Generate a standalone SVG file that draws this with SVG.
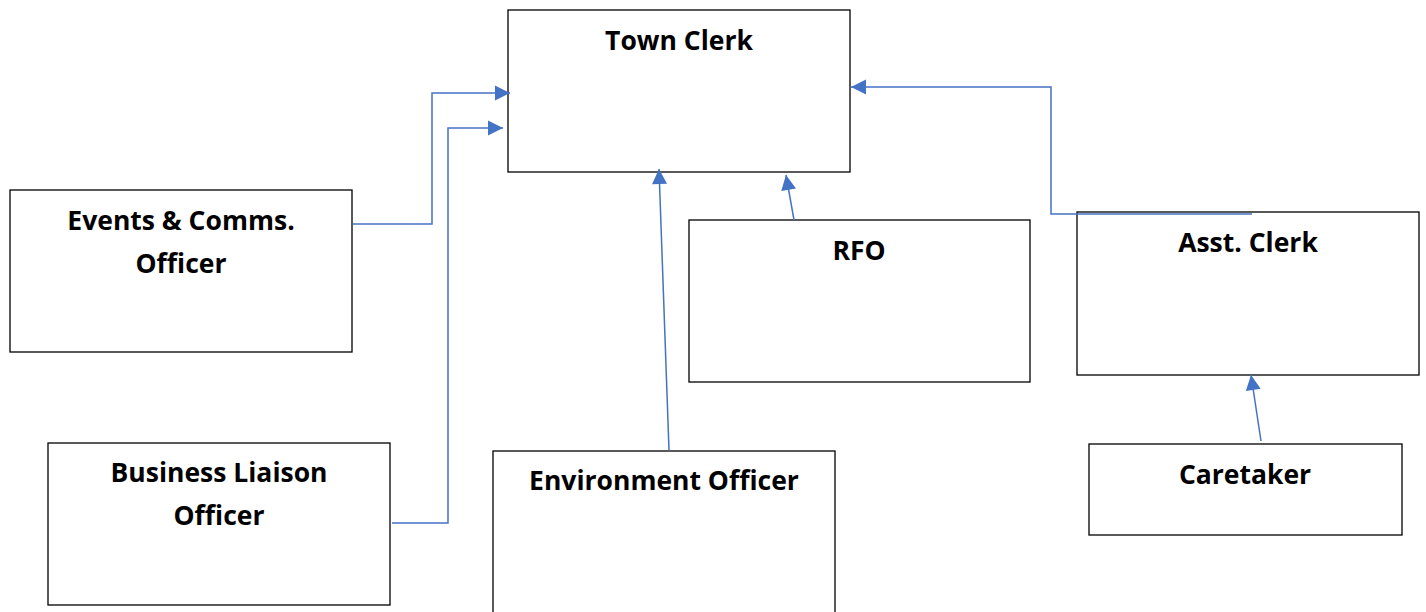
<svg xmlns="http://www.w3.org/2000/svg" width="1426" height="612" viewBox="0 0 1426 612">
<style>
.box{fill:#fff;stroke:#000;stroke-width:1.3}
.lbl{font-family:"Open Sans","Noto Sans",sans-serif;font-weight:bold;font-size:26.5px;text-anchor:middle;fill:#000}
.con{fill:none;stroke:#4472C4;stroke-width:1.5}
</style>
<defs>
<marker id="arr" viewBox="0 0 10 10" refX="10" refY="5" markerWidth="10" markerHeight="10" markerUnits="userSpaceOnUse" orient="auto" overflow="visible">
<path d="M0,0 L10,5 L0,10 Z" fill="#4472C4" transform="scale(1.5)" transform-origin="10 5"/>
</marker>
</defs>
<rect width="1426" height="612" fill="#fff"/>
<g id="town-clerk"><rect class="box" x="508" y="10" width="342" height="162"/><text class="lbl" x="679" y="50">Town Clerk</text></g>
<g id="events"><rect class="box" x="10" y="190" width="342" height="162"/><text class="lbl" x="181" y="230">Events &amp; Comms.</text><text class="lbl" x="181" y="273">Officer</text></g>
<g id="business"><rect class="box" x="48" y="443" width="342" height="162"/><text class="lbl" x="219" y="482">Business Liaison</text><text class="lbl" x="219" y="525">Officer</text></g>
<g id="environment"><rect class="box" x="493" y="451" width="342" height="170"/><text class="lbl" x="664" y="490">Environment Officer</text></g>
<g id="rfo"><rect class="box" x="689" y="220" width="341" height="162"/><text class="lbl" x="859" y="260">RFO</text></g>
<g id="asst-clerk"><rect class="box" x="1077" y="212" width="342" height="163"/><text class="lbl" x="1248" y="252">Asst. Clerk</text></g>
<g id="caretaker"><rect class="box" x="1089" y="444" width="313" height="91"/><text class="lbl" x="1245" y="484">Caretaker</text></g>
<g id="connectors">
<polyline class="con" points="353,224 432,224 432,93 510,93" marker-end="url(#arr)"/>
<polyline class="con" points="392,523 448,523 448,128 503,128" marker-end="url(#arr)"/>
<line class="con" x1="669" y1="450" x2="659" y2="169" marker-end="url(#arr)"/>
<line class="con" x1="794" y1="220" x2="786" y2="175" marker-end="url(#arr)"/>
<polyline class="con" points="1252,214 1051,214 1051,87 851,87" marker-end="url(#arr)"/>
<line class="con" x1="1261" y1="441" x2="1251" y2="375" marker-end="url(#arr)"/>
</g>
</svg>
